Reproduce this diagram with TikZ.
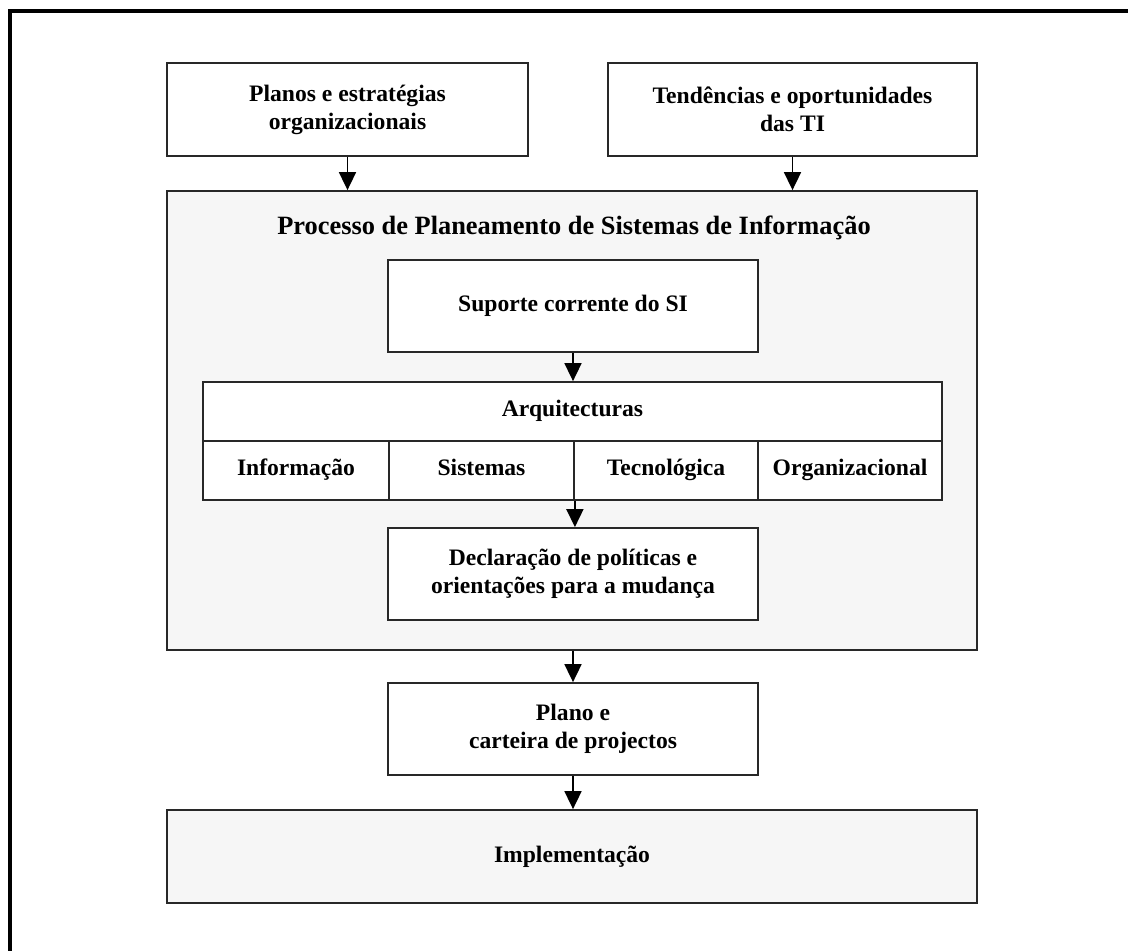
\documentclass[tikz,border=0pt]{standalone}
\usepackage{fontspec}
\setmainfont{Liberation Serif}
\usetikzlibrary{arrows.meta}

\definecolor{panel}{RGB}{246,246,246}
\definecolor{edge}{RGB}{40,40,40}

\tikzset{
  box/.style={draw=edge, line width=0.9pt, fill=white, inner sep=0pt, align=center,
              font=\fontsize{11.8}{14}\selectfont\bfseries},
  greybox/.style={box, fill=panel},
  cell/.style={box, minimum height=29.5pt, text height=0.72em, text depth=0.22em},
  flow/.style={line width=0.85pt, -{Triangle[width=8.5pt,length=9pt]}},
}

\begin{document}
\begin{tikzpicture}[x=0.5pt, y=-0.5pt]
  \useasboundingbox (0,0) rectangle (1128,950);
  \fill[white] (0,0) rectangle (1128,950);

  % page frame, running off the right and bottom
  \draw[line width=1.6pt, black] (10,1000) -- (10,11) -- (1140,11);

  % inputs
  \node[box, minimum width=180.5pt, minimum height=46.5pt] (planos) at (347.5,109.5)
    {Planos e estratégias\\organizacionais};
  \node[box, minimum width=184.5pt, minimum height=46.5pt] (tend) at (792.5,109.5)
    {Tendências e oportunidades\\das TI};

  % planning process
  \node[greybox, minimum width=405pt, minimum height=229.5pt] (proc) at (572,420.5) {};
  \node[font=\fontsize{13.2}{15}\selectfont\bfseries] (ptitle) at (574,228)
    {Processo de Planeamento de Sistemas de Informação};

  \node[box, minimum width=185pt, minimum height=46pt] (sup) at (573,306)
    {Suporte corrente do SI};

  \node[cell, minimum width=369.5pt] (arq) at (572.5,411.5) {Arquitecturas};
  \node[cell, minimum width=93pt]   (inf) at (296,470.5)   {Informação};
  \node[cell, minimum width=92.5pt] (sis) at (481.5,470.5) {Sistemas};
  \node[cell, minimum width=92pt]   (tec) at (666,470.5)   {Tecnológica};
  \node[cell, minimum width=92pt]   (org) at (850,470.5)   {Organizacional};

  \node[box, minimum width=185pt, minimum height=46pt] (decl) at (573,574)
    {Declaração de políticas e\\orientações para a mudança};

  % outputs
  \node[box, minimum width=185pt, minimum height=46pt] (plano) at (573,729)
    {Plano e\\carteira de projectos};
  \node[greybox, minimum width=405pt, minimum height=46.5pt] (impl) at (572,856.5)
    {Implementação};

  % connectors
  \draw[flow] (planos.south) -- (planos.south |- proc.north);
  \draw[flow] (tend.south) -- (tend.south |- proc.north);
  \draw[flow] (sup.south) -- (sup.south |- arq.north);
  \draw[flow] (sis.south east) -- (sis.south east |- decl.north);
  \draw[flow] (plano.north |- proc.south) -- (plano.north);
  \draw[flow] (plano.south) -- (plano.south |- impl.north);
\end{tikzpicture}
\end{document}
